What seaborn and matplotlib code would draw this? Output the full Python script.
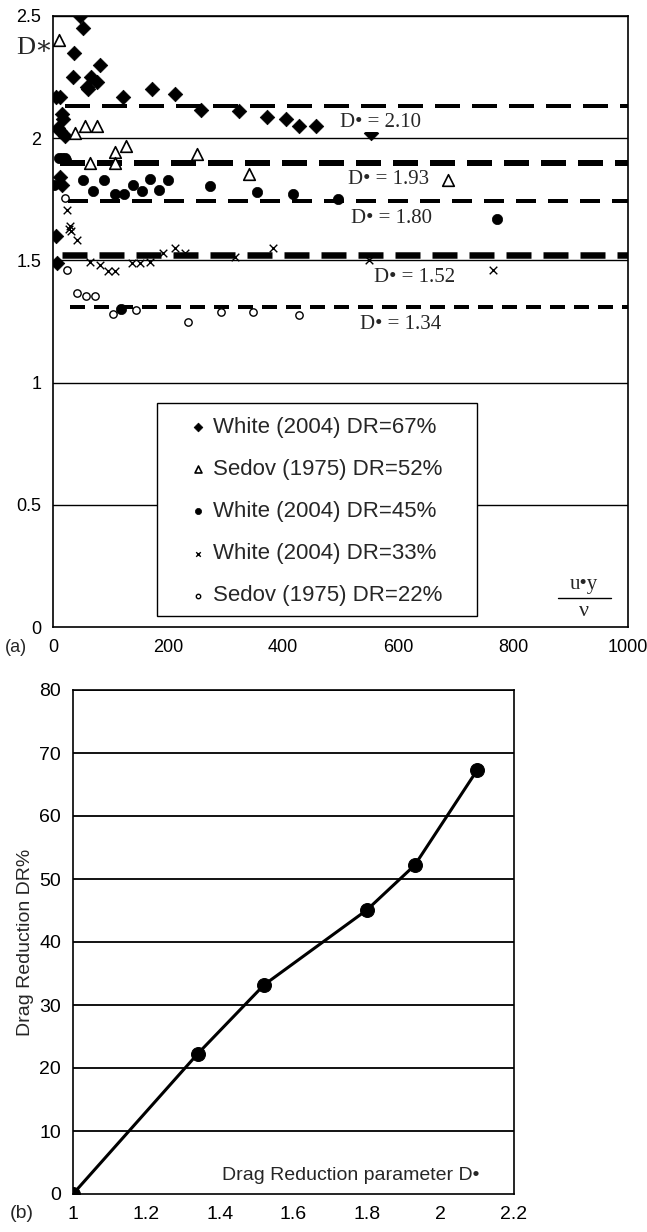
import numpy as np
import pandas as pd
import matplotlib
matplotlib.use("Agg")
import matplotlib.pyplot as plt
from matplotlib.lines import Line2D
from matplotlib.patches import Rectangle
import seaborn as sns

# ---------------- data (panel a) ----------------
w67_x = [47, 53, 37, 82, 34, 66, 60, 77, 59, 122, 173, 212, 5, 12, 15, 18, 13, 20, 8, 257, 324, 373, 405, 427, 457, 553, 13, 15, 6, 7]
w67_y = [2.50, 2.45, 2.35, 2.30, 2.25, 2.25, 2.20, 2.23, 2.21, 2.17, 2.20, 2.18, 2.17, 2.17, 2.10, 2.08, 2.03, 2.01, 2.04, 2.115, 2.11, 2.085, 2.077, 2.05, 2.05, 2.02, 1.84, 1.81, 1.60, 1.49]

s52_x = [11, 38, 56, 76, 108, 127, 64, 108, 250, 340, 687]
s52_y = [2.40, 2.02, 2.05, 2.05, 1.945, 1.97, 1.90, 1.90, 1.935, 1.855, 1.83]

w45_x = [1, 10, 15, 20, 22, 53, 70, 88, 108, 123, 139, 154, 169, 185, 200, 273, 354, 418, 496, 773, 119]
w45_y = [1.81, 1.92, 1.92, 1.92, 1.91, 1.83, 1.785, 1.83, 1.77, 1.77, 1.81, 1.785, 1.835, 1.79, 1.83, 1.805, 1.78, 1.77, 1.75, 1.67, 1.30]

w33_x = [24, 27, 30, 32, 41, 64, 82, 96, 108, 137, 151, 169, 192, 212, 230, 317, 383, 550, 766]
w33_y = [1.705, 1.63, 1.64, 1.62, 1.585, 1.495, 1.48, 1.455, 1.455, 1.49, 1.49, 1.495, 1.53, 1.55, 1.53, 1.515, 1.55, 1.50, 1.46]

s22_x = [21, 24, 41, 57, 73, 105, 145, 235, 293, 348, 427]
s22_y = [1.754, 1.46, 1.365, 1.355, 1.355, 1.28, 1.297, 1.25, 1.29, 1.29, 1.275]

series_labels = ["White (2004) DR=67%", "Sedov (1975) DR=52%", "White (2004) DR=45%",
                 "White (2004) DR=33%", "Sedov (1975) DR=22%"]

# fitted D* levels (as drawn) and their labels
dline_y = [2.13, 1.90, 1.745, 1.522, 1.31]
dline_start = [21, 12, 26, 16, 30]
dline_text = ["D\u2022 = 2.10", "D\u2022 = 1.93", "D\u2022 = 1.80", "D\u2022 = 1.52", "D\u2022 = 1.34"]
dline_text_x = [570, 584, 588, 628, 605]
dline_text_y = [2.066, 1.829, 1.673, 1.428, 1.236]

xticks_a = [0, 200, 400, 600, 800, 1000]
yticks_a = [0, 0.5, 1, 1.5, 2, 2.5]
yticklabels_a = ["0", "0.5", "1", "1.5", "2", "2.5"]

# ---------------- data (panel b) ----------------
dstar = [1.0, 1.34, 1.52, 1.80, 1.93, 2.10]
dr_pct = [0, 22.3, 33.2, 45.1, 52.2, 67.3]
xticks_b = [1, 1.2, 1.4, 1.6, 1.8, 2, 2.2]
xticklabels_b = ["1", "1.2", "1.4", "1.6", "1.8", "2", "2.2"]
yticks_b = [0, 10, 20, 30, 40, 50, 60, 70, 80]

# ---------------- style ----------------
sns.set_theme(style="white")
plt.rcParams["font.family"] = ["Liberation Sans", "DejaVu Sans"]
plt.rcParams["axes.edgecolor"] = "black"
plt.rcParams["xtick.color"] = "black"
plt.rcParams["ytick.color"] = "black"

W, H = 647, 1232
fig = plt.figure(figsize=(W / 100, H / 100), dpi=100)
fig.patch.set_facecolor("white")

def fx(px):
    return px / W

def fy(py):
    return 1 - py / H

SERIF = ["Liberation Serif", "DejaVu Serif"]

# ---------------- panel a ----------------
ax = fig.add_axes([fx(53), fy(627), fx(628) - fx(53), fy(16) - fy(627)])
ax.set_xlim(0, 1000)
ax.set_ylim(0, 2.5)
for yv in yticks_a[1:]:
    ax.axhline(yv, color="black", lw=1.0, zorder=1)

dash_lw_px = [4, 6, 4, 6.5, 4]
dash_on_px = [25, 25, 20, 25, 15]
dash_off_px = [12, 12, 12, 12, 9]
for yv, xs, lwpx, on, off in zip(dline_y, dline_start, dash_lw_px, dash_on_px, dash_off_px):
    ax.hlines(yv, xs, 1000, colors="black", lw=lwpx * 0.72,
              linestyles=[(0, (on / lwpx, off / lwpx))], zorder=2)

sns.scatterplot(x=w67_x, y=w67_y, ax=ax, marker="D", s=55, color="black",
                edgecolor="black", linewidth=0.5, label=series_labels[0], zorder=4)
sns.scatterplot(x=s52_x, y=s52_y, ax=ax, marker="^", s=70, facecolor="white",
                edgecolor="black", linewidth=1.2, label=series_labels[1], zorder=4)
sns.scatterplot(x=w45_x, y=w45_y, ax=ax, marker="o", s=55, color="black",
                edgecolor="black", linewidth=0.5, label=series_labels[2], zorder=4)
sns.scatterplot(x=w33_x, y=w33_y, ax=ax, marker="x", s=30, color="black",
                linewidth=1.0, label=series_labels[3], zorder=4)
sns.scatterplot(x=s22_x, y=s22_y, ax=ax, marker="o", s=28, facecolor="white",
                edgecolor="black", linewidth=1.0, label=series_labels[4], zorder=4)

for txt, tx, ty in zip(dline_text, dline_text_x, dline_text_y):
    ax.text(tx, ty, txt, ha="center", va="center", fontsize=15,
            family=SERIF, zorder=5,
            bbox=dict(facecolor="white", edgecolor="none", pad=0.5))

ax.set_xticks(xticks_a)
ax.set_yticks(yticks_a)
ax.set_xticklabels([str(v) for v in xticks_a], fontsize=13)
ax.set_yticklabels(yticklabels_a, fontsize=13)
ax.tick_params(axis="both", direction="out", length=5, width=1, colors="black")
for sp in ax.spines.values():
    sp.set_visible(True)
    sp.set_color("black")
    sp.set_linewidth(1.2)
ax.set_xlabel("")
ax.set_ylabel("")

# legend box (drawn explicitly, inside the axes) and legend entries
ax.add_patch(Rectangle((fx(157), fy(616)), fx(477) - fx(157), fy(403) - fy(616),
                       transform=fig.transFigure, clip_on=False,
                       facecolor="white", edgecolor="black", lw=1.0, zorder=6))
leg = ax.legend(loc="upper left", bbox_to_anchor=(fx(182), fy(417)),
                bbox_transform=fig.transFigure,
                frameon=False, fontsize=16, markerscale=0.6, handletextpad=0.0,
                handlelength=1.4, labelspacing=0.95, borderpad=0, borderaxespad=0)
leg.set_zorder(8)

fig.text(fx(35), fy(48), "D\u2217", fontsize=19, ha="center", va="center", family=SERIF)
fig.text(fx(584), fy(584), "u\u2022y", fontsize=15, ha="center", va="center", family=SERIF)
fig.add_artist(Line2D([fx(558), fx(611)], [fy(598), fy(598)], color="black", lw=1.0))
fig.text(fx(584), fy(612), "\u03bd", fontsize=16, ha="center", va="center", family=SERIF)
fig.text(fx(16), fy(648), "(a)", fontsize=13, ha="center", va="center")

# ---------------- panel b ----------------
bx = fig.add_axes([fx(73), fy(1194), fx(514) - fx(73), fy(690) - fy(1194)])
bx.set_xlim(1, 2.2)
bx.set_ylim(0, 80)
for yv in yticks_b[1:]:
    bx.axhline(yv, color="black", lw=1.3, zorder=1)
sns.lineplot(x=dstar, y=dr_pct, ax=bx, color="black", lw=2.2, marker="o",
             markersize=10, markeredgecolor="black", zorder=3)
bx.set_xticks(xticks_b)
bx.set_yticks(yticks_b)
bx.set_xticklabels(xticklabels_b, fontsize=14)
bx.set_yticklabels([str(v) for v in yticks_b], fontsize=14)
bx.tick_params(axis="both", direction="out", length=5, width=1, colors="black")
for sp in bx.spines.values():
    sp.set_visible(True)
    sp.set_color("black")
    sp.set_linewidth(1.2)
bx.set_xlabel("")
bx.set_ylabel("Drag Reduction DR%", fontsize=14, labelpad=4)
bx.text(2.107, 3.0, "Drag Reduction parameter D\u2022", fontsize=14, ha="right", va="center")
fig.text(fx(22), fy(1213), "(b)", fontsize=14, ha="center", va="center")

fig.savefig("out.png", dpi=100, facecolor="white")
